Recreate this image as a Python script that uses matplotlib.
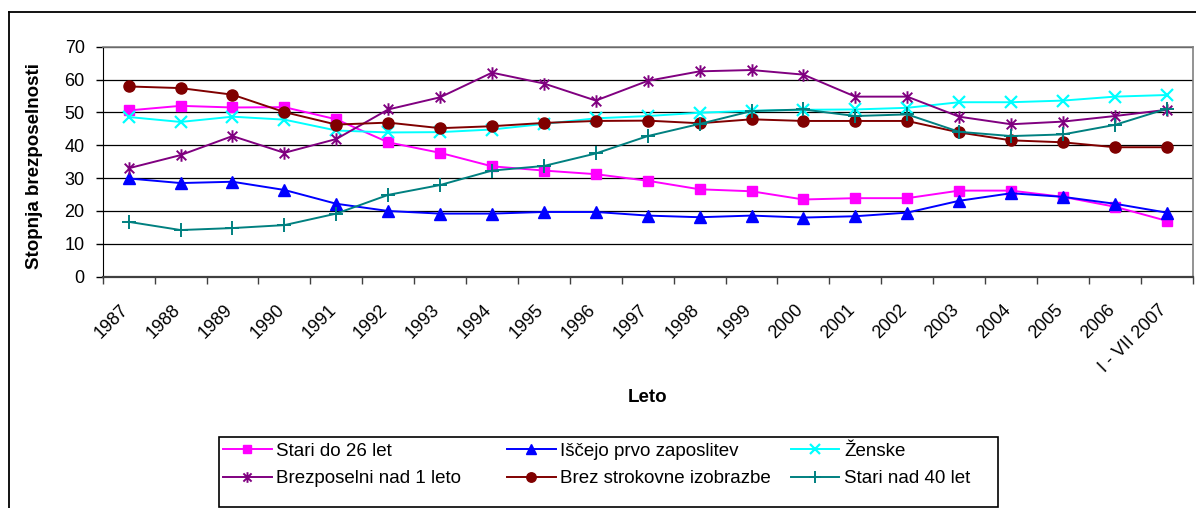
import matplotlib
matplotlib.use("Agg")
import matplotlib.pyplot as plt
from matplotlib.lines import Line2D
from matplotlib.patches import Rectangle
from matplotlib.path import Path
import numpy as np

plt.rcParams['font.family'] = ['Liberation Sans', 'DejaVu Sans']

years = ['1987', '1988', '1989', '1990', '1991', '1992', '1993', '1994', '1995',
         '1996', '1997', '1998', '1999', '2000', '2001', '2002', '2003', '2004',
         '2005', '2006', 'I - VII 2007']

stari_do_26 = [50.6, 52.0, 51.5, 51.6, 47.9, 40.9, 37.7, 33.6, 32.3, 31.2, 29.2,
               26.6, 26.0, 23.5, 23.9, 23.9, 26.2, 26.2, 24.3, 21.3, 17.0]
iscejo_prvo = [29.9, 28.5, 28.9, 26.4, 22.2, 20.0, 19.2, 19.2, 19.7, 19.7, 18.6,
               18.1, 18.6, 18.0, 18.4, 19.5, 23.1, 25.4, 24.3, 22.2, 19.5]
zenske = [48.6, 47.1, 48.7, 47.8, 44.5, 43.9, 44.0, 44.8, 46.5, 48.2, 48.9,
          49.9, 50.5, 50.8, 50.9, 51.4, 53.1, 53.1, 53.6, 54.8, 55.3]
nad_1_leto = [33.0, 37.0, 42.8, 37.7, 41.9, 50.9, 54.6, 62.1, 58.8, 53.6, 59.6,
              62.5, 62.9, 61.5, 54.8, 54.8, 48.7, 46.4, 47.2, 48.9, 50.8]
brez_izobrazbe = [57.9, 57.4, 55.4, 50.1, 46.3, 46.9, 45.2, 45.8, 46.8, 47.4, 47.5,
                  46.7, 47.9, 47.4, 47.4, 47.4, 43.9, 41.5, 40.9, 39.4, 39.4]
stari_nad_40 = [16.7, 14.2, 14.8, 15.7, 19.2, 24.9, 27.9, 32.3, 33.7, 37.5, 42.8,
                46.5, 50.4, 50.9, 48.9, 49.4, 44.1, 42.8, 43.3, 46.2, 51.1]

# Excel-style asterisk: an X with a vertical stroke
ast = Path([(-1, -1), (1, 1), (-1, 1), (1, -1), (0, -1.3), (0, 1.3)],
           [Path.MOVETO, Path.LINETO, Path.MOVETO, Path.LINETO, Path.MOVETO, Path.LINETO])

series = [
    ('Stari do 26 let', stari_do_26, '#FF00FF', 's', 7.5, 1.0),
    ('Iščejo prvo zaposlitev', iscejo_prvo, '#0000FF', '^', 9, 1.0),
    ('Ženske', zenske, '#00FFFF', 'x', 8.5, 1.6),
    ('Brezposelni nad 1 leto', nad_1_leto, '#800080', ast, 9, 1.4),
    ('Brez strokovne izobrazbe', brez_izobrazbe, '#800000', 'o', 8, 1.0),
    ('Stari nad 40 let', stari_nad_40, '#008080', '+', 10, 1.4),
]

W, H = 1196, 508
fig = plt.figure(figsize=(W / 100, H / 100), dpi=100)
ax = fig.add_axes([102.7 / W, 1 - 276.7 / H, 1090 / W, 230 / H])

x = np.arange(len(years))
handles = []
for name, vals, col, mk, ms, mew in series:
    h, = ax.plot(x, vals, color=col, lw=1.4, marker=mk, markersize=ms,
                 markeredgewidth=mew, markerfacecolor=col, markeredgecolor=col,
                 label=name, clip_on=False, zorder=3)
    handles.append(h)

ax.set_xlim(-0.5, len(years) - 0.5)
ax.set_ylim(0, 70)
ax.set_yticks(np.arange(0, 71, 10))
ax.yaxis.grid(True, color='#000000', lw=0.9)
ax.set_axisbelow(True)

# tick marks between categories, labels on invisible minor ticks
# set slightly left so the rotated text ends just before each category
ax.set_xticks(np.arange(-0.5, len(years), 1))
ax.set_xticklabels([])
ax.set_xticks(x - 0.17, minor=True)
ax.set_xticklabels(years, minor=True, rotation=45, ha='right', va='top',
                   rotation_mode='anchor', fontsize=13)
ax.tick_params(axis='x', which='major', direction='out', length=5, width=1, color='#404040')
ax.tick_params(axis='x', which='minor', length=0, pad=18)
ax.tick_params(axis='y', direction='out', length=5, width=1, labelsize=13, pad=8)

ax.spines['left'].set_color('#000000')
ax.spines['bottom'].set_color('#404040')
ax.spines['bottom'].set_linewidth(1.6)
for s in ('top', 'right'):
    ax.spines[s].set_color('#808080')
    ax.spines[s].set_linewidth(1.2)

ax.set_ylabel('Stopnja brezposelnosti', fontsize=13.5, fontweight='bold')
ax.yaxis.set_label_coords((43.3 - 102.7) / 1090, 0.48)
fig.text(648 / W, 1 - 397 / H, 'Leto', fontsize=13.5, fontweight='bold',
         ha='center', va='center')

# legend: three columns inside one framed box
fig.add_artist(Rectangle((219 / W, 1 - 507 / H), 779 / W, 70 / H,
                         transform=fig.transFigure, fill=False,
                         edgecolor='#000000', lw=1.2))
col_x = [219, 503, 787]
for i, cx in enumerate(col_x):
    fig.legend(handles=[handles[i], handles[i + 3]], loc='upper left',
               bbox_to_anchor=(cx / W, 1 - 439 / H), frameon=False,
               fontsize=13.5, handlelength=2.6, handletextpad=0.25,
               borderpad=0.2, labelspacing=0.55, borderaxespad=0,
               markerscale=0.85)

# outer chart frame
fig.add_artist(Line2D([9 / W, 9 / W], [0, 1 - 12 / H], transform=fig.transFigure,
                      color='#000000', lw=1.3))
fig.add_artist(Line2D([9 / W, 1], [1 - 12 / H, 1 - 12 / H], transform=fig.transFigure,
                      color='#000000', lw=1.3))

fig.savefig('out.png', dpi=100)
